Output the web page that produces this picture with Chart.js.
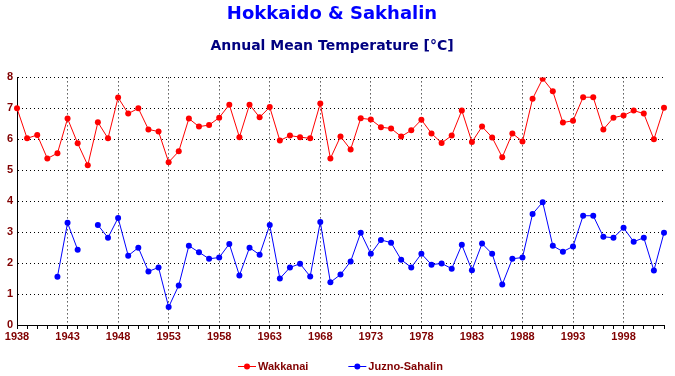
<!DOCTYPE html>
<html>
<head>
<meta charset="utf-8">
<script src="https://cdn.jsdelivr.net/npm/chart.js@4/dist/chart.umd.min.js"></script>
<style>
html,body{margin:0;padding:0;background:#fff;}
#wrap{width:675px;height:376px;position:relative;}
</style>
</head>
<body>
<div id="wrap"><canvas id="c" width="675" height="376"></canvas></div>
<script>
const years = [1938,1939,1940,1941,1942,1943,1944,1945,1946,1947,1948,1949,1950,1951,1952,1953,1954,1955,1956,1957,1958,1959,1960,1961,1962,1963,1964,1965,1966,1967,1968,1969,1970,1971,1972,1973,1974,1975,1976,1977,1978,1979,1980,1981,1982,1983,1984,1985,1986,1987,1988,1989,1990,1991,1992,1993,1994,1995,1996,1997,1998,1999,2000,2001,2002];
const wakkanai = [7.00,6.03,6.14,5.38,5.55,6.67,5.87,5.16,6.55,6.03,7.35,6.83,7.00,6.32,6.25,5.26,5.61,6.67,6.41,6.46,6.70,7.12,6.07,7.12,6.71,7.04,5.96,6.12,6.07,6.03,7.16,5.38,6.09,5.67,6.68,6.64,6.39,6.35,6.09,6.29,6.63,6.19,5.88,6.12,6.93,5.91,6.41,6.06,5.42,6.19,5.93,7.31,7.96,7.55,6.54,6.60,7.36,7.36,6.32,6.70,6.77,6.93,6.83,6.00,7.02];
const juznoSahalin = [null,null,null,null,1.56,3.30,2.43,null,3.23,2.82,3.46,2.24,2.50,1.73,1.86,0.58,1.28,2.56,2.35,2.14,2.18,2.62,1.60,2.50,2.27,3.23,1.50,1.86,1.98,1.57,3.33,1.38,1.63,2.05,2.98,2.30,2.75,2.66,2.11,1.86,2.30,1.95,1.99,1.82,2.59,1.77,2.63,2.30,1.31,2.14,2.18,3.59,3.97,2.56,2.37,2.54,3.53,3.53,2.85,2.82,3.14,2.69,2.82,1.76,2.98];
const yTicks = [0,1,2,3,4,5,6,7,8];
const seriesNames = ['Wakkanai','Juzno-Sahalin'];
const seriesColors = ['#ff0000','#0000ff'];

const fontFamily = '"Liberation Sans", Arial, sans-serif';
const labelFont = {family:fontFamily, size:11, weight:'bold'};
const dark = '#800000';

// Legend drawn below the axis: a short line with a dot, then the series name
const lineLegend = {
  id:'lineLegend',
  afterDraw(chart){
    const g = chart.ctx;
    const ds = chart.data.datasets;
    g.save();
    g.font = 'bold 11px ' + fontFamily;
    g.textBaseline = 'middle';
    const iconW = 18, gapText = 2, gapItem = 40;
    const widths = ds.map(d => iconW + gapText + g.measureText(d.label).width);
    const total = widths.reduce((a,b)=>a+b,0) + gapItem*(ds.length-1);
    const ca = chart.chartArea;
    let x = Math.round((ca.left + ca.right)/2 - total/2);
    const y = 366.5;
    ds.forEach((d,i)=>{
      g.strokeStyle = d.borderColor; g.lineWidth = 1;
      g.beginPath(); g.moveTo(x, y); g.lineTo(x+iconW, y); g.stroke();
      g.fillStyle = d.borderColor;
      g.beginPath(); g.arc(x+iconW/2, y, 3, 0, Math.PI*2); g.fill();
      g.fillStyle = dark;
      g.fillText(d.label, x+iconW+gapText, y);
      x += widths[i] + gapItem;
    });
    g.restore();
  }
};

new Chart(document.getElementById('c'), {
  type:'line',
  data:{
    labels: years,
    datasets:[
      {label:seriesNames[0], data:wakkanai, borderColor:seriesColors[0], backgroundColor:seriesColors[0], borderWidth:1, pointRadius:3, pointBorderWidth:0, pointHoverRadius:3, tension:0, spanGaps:false},
      {label:seriesNames[1], data:juznoSahalin, borderColor:seriesColors[1], backgroundColor:seriesColors[1], borderWidth:1, pointRadius:3, pointBorderWidth:0, pointHoverRadius:3, tension:0, spanGaps:false}
    ]
  },
  plugins:[lineLegend],
  options:{
    responsive:false,
    animation:false,
    events:[],
    layout:{padding:{left:0,right:11,top:0,bottom:31}},
    plugins:{
      title:{display:true, text:'Hokkaido & Sakhalin', color:'#0000ff', font:{family:'"DejaVu Sans", sans-serif', size:18, weight:'bold'}, padding:{top:4,bottom:4}},
      subtitle:{display:true, text:'Annual Mean Temperature [°C]', color:'#000080', font:{family:'"DejaVu Sans", sans-serif', size:14, weight:'bold'}, padding:{top:8,bottom:23}},
      legend:{display:false},
      tooltip:{enabled:false}
    },
    scales:{
      x:{
        type:'category',
        offset:false,
        afterFit:(s)=>{ s.height = 20; },
        grid:{
          color:(ctx)=> (ctx.index!==undefined && ctx.index%5===0 && ctx.index>0) ? '#000' : 'rgba(0,0,0,0)',
          tickColor:'#000', tickLength:4, lineWidth:1, drawOnChartArea:true
        },
        border:{display:true,color:'#000',width:1,dash:[1,3]},
        ticks:{autoSkip:false, maxRotation:0, minRotation:0, padding:1, color:dark, font:labelFont,
          callback:function(v,i){ return i%5===0 ? String(years[i]) : ''; }}
      },
      y:{
        min:0, max:8,
        afterBuildTicks:(s)=>{ s.ticks = yTicks.map(v=>({value:v})); },
        afterFit:(s)=>{ s.width = 17; },
        grid:{color:(ctx)=> ctx.tick && ctx.tick.value>0 ? '#000' : 'rgba(0,0,0,0)', drawTicks:false, lineWidth:1},
        border:{display:true,color:'#000',width:1,dash:[1,3]},
        ticks:{padding:4, color:dark, font:labelFont}
      }
    }
  }
});
</script>
</body>
</html>
